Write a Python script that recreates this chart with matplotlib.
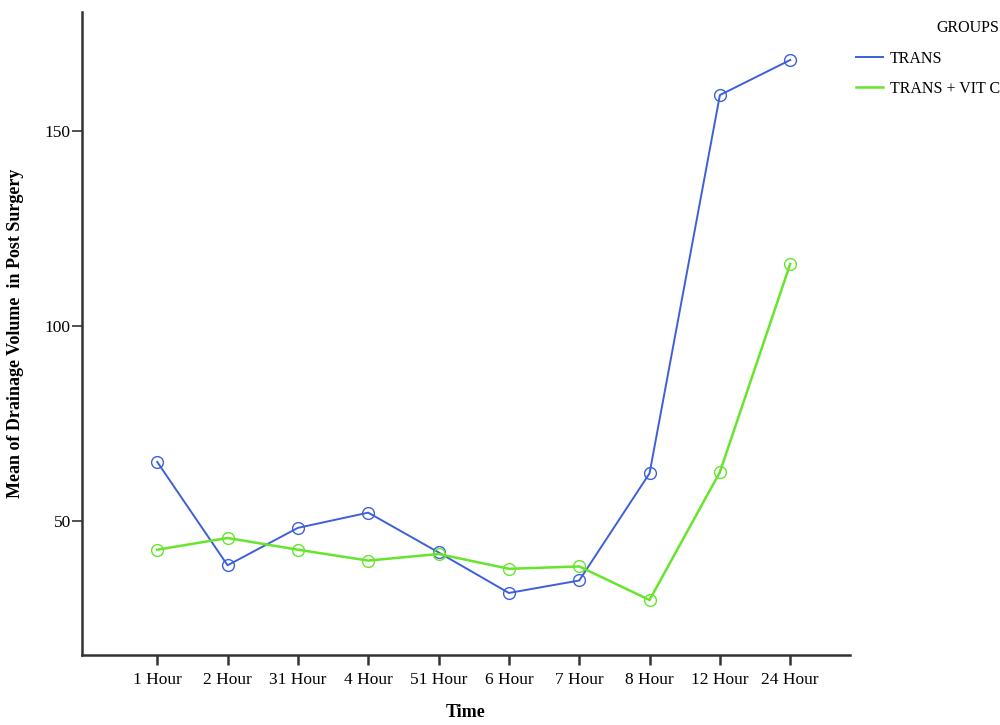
import matplotlib
matplotlib.use("Agg")
import matplotlib.pyplot as plt

categories = ["1 Hour", "2 Hour", "31 Hour", "4 Hour", "51 Hour", "6 Hour",
              "7 Hour", "8 Hour", "12 Hour", "24 Hour"]
trans = [65.1, 38.6, 48.2, 52.1, 41.9, 31.5, 34.7, 62.2, 159.2, 168.2]
trans_vitc = [42.6, 45.6, 42.6, 39.8, 41.5, 37.7, 38.3, 29.7, 62.5, 115.9]
y_ticks = [50, 100, 150]

blue = "#3d5fd8"
green = "#66e52c"

plt.rcParams['font.family'] = ['Liberation Serif', 'DejaVu Serif']

fig = plt.figure(figsize=(10, 7.25), dpi=100)
ax = fig.add_axes([0.082, 0.0966, 0.768, 0.8868])

x = list(range(len(categories)))
ax.plot(x, trans, color=blue, lw=1.4, marker="o", ms=8.5, mfc="none",
        mec=blue, mew=1.0, label="TRANS")
ax.plot(x, trans_vitc, color=green, lw=1.8, marker="o", ms=8.5, mfc="none",
        mec=green, mew=1.0, label="TRANS + VIT C")

ax.set_xlim(-1.07, 9.85)
ax.set_ylim(15.6, 180.5)
ax.set_xticks(x)
ax.set_xticklabels(categories, fontsize=12.5)
ax.set_yticks(y_ticks)
ax.set_yticklabels([str(v) for v in y_ticks], fontsize=12.5)

for s in ["top", "right"]:
    ax.spines[s].set_visible(False)
for s in ["left", "bottom"]:
    ax.spines[s].set_linewidth(1.8)
    ax.spines[s].set_color("#333333")
ax.tick_params(axis="x", length=7, width=1.8, color="#333333", pad=5)
ax.tick_params(axis="y", length=7, width=1.2, color="#333333", pad=1)

ax.set_xlabel("Time", fontsize=13, fontweight="bold", labelpad=12)
ax.set_ylabel("Mean of Drainage Volume  in Post Surgery", fontsize=13,
              fontweight="bold", labelpad=15)

leg = fig.legend(loc="upper left", bbox_to_anchor=(0.856, 0.972),
                 frameon=False, title="GROUPS", fontsize=11.5,
                 title_fontsize=11.5, handlelength=1.7, handletextpad=0.4,
                 labelspacing=0.9, borderpad=0, borderaxespad=0)
for h in leg.legend_handles:
    h.set_marker("")
leg._legend_box.align = "right"

fig.savefig("out.png", dpi=100)
